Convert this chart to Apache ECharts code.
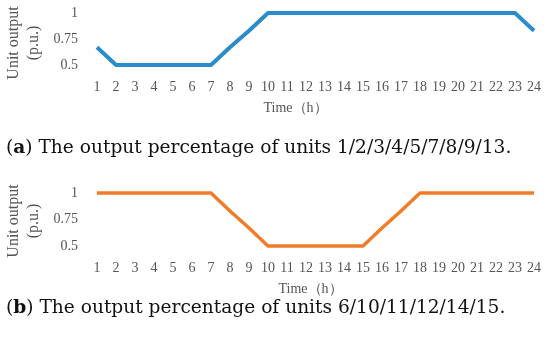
<!DOCTYPE html>
<html><head><meta charset="utf-8">
<script src="https://cdn.jsdelivr.net/npm/echarts@6/dist/echarts.min.js"></script>
<style>html,body{margin:0;padding:0;background:#fff}#c{width:550px;height:348px}</style>
</head><body><div id="c"></div>
<script>
var hours = ['1','2','3','4','5','6','7','8','9','10','11','12','13','14','15','16','17','18','19','20','21','22','23','24'];
var unitsA = [0.67,0.5,0.5,0.5,0.5,0.5,0.5,0.67,0.83,1,1,1,1,1,1,1,1,1,1,1,1,1,1,0.83];
var unitsB = [1,1,1,1,1,1,1,0.83,0.67,0.5,0.5,0.5,0.5,0.5,0.5,0.67,0.83,1,1,1,1,1,1,1];
var yTicks = [0.5,0.75,1];
var captionA = 'The output percentage of units 1/2/3/4/5/7/8/9/13.';
var captionB = 'The output percentage of units 6/10/11/12/14/15.';
var yTitle = 'Unit output\n(p.u.)';
var xTitle = 'Time（h）';

var serif = '"Liberation Serif", "DejaVu Serif", serif';
var chart = echarts.init(document.getElementById('c'), null, {renderer:'canvas'});
function xAx(gi, padR){
  return {type:'category', gridIndex:gi, data:hours, boundaryGap:false,
    axisLine:{show:false}, axisTick:{show:false},
    axisLabel:{color:'#555', fontFamily:serif, fontSize:14, margin:15, interval:0},
    name:xTitle, nameLocation:'middle', nameGap:36,
    nameTextStyle:{color:'#555', fontFamily:serif, fontSize:14, padding:[0,padR,0,0]}};
}
function yAx(gi){
  return {type:'value', gridIndex:gi, min:0.5, max:1, interval:0.25,
    axisLine:{show:false}, axisTick:{show:false}, splitLine:{show:false},
    axisLabel:{color:'#555', fontFamily:serif, fontSize:14, margin:19,
      formatter:function(v){ return yTicks.indexOf(v)>=0 ? String(v) : ''; }}};
}
chart.setOption({
  animation:false,
  grid:[{left:97,right:16,top:13,height:52},{left:97,right:16,top:193,height:53}],
  xAxis:[xAx(0, 40), xAx(1, 10)],
  yAxis:[yAx(0), yAx(1)],
  series:[
    {type:'line', xAxisIndex:0, yAxisIndex:0, data:unitsA, symbol:'none', clip:false,
      lineStyle:{color:'#2a8ccb', width:4}},
    {type:'line', xAxisIndex:1, yAxisIndex:1, data:unitsB, symbol:'none', clip:false,
      lineStyle:{color:'#f07c2a', width:3.5}}
  ],
  graphic:[
    {type:'text', x:24, y:43, rotation:Math.PI/2,
      style:{text:yTitle, fill:'#555', font:'16px '+serif, align:'center', verticalAlign:'middle', lineHeight:20}},
    {type:'text', x:24, y:221, rotation:Math.PI/2,
      style:{text:yTitle, fill:'#555', font:'16px '+serif, align:'center', verticalAlign:'middle', lineHeight:20}},
    {type:'text', x:6, y:148,
      style:{text:'({b|a}) '+captionA, fill:'#111', font:'18.6px "DejaVu Serif", serif', verticalAlign:'middle',
        rich:{b:{fontWeight:'bold', fontSize:18.6, fontFamily:'DejaVu Serif'}}}},
    {type:'text', x:6, y:308,
      style:{text:'({b|b}) '+captionB, fill:'#111', font:'18.6px "DejaVu Serif", serif', verticalAlign:'middle',
        rich:{b:{fontWeight:'bold', fontSize:18.6, fontFamily:'DejaVu Serif'}}}}
  ]
});
</script></body></html>
